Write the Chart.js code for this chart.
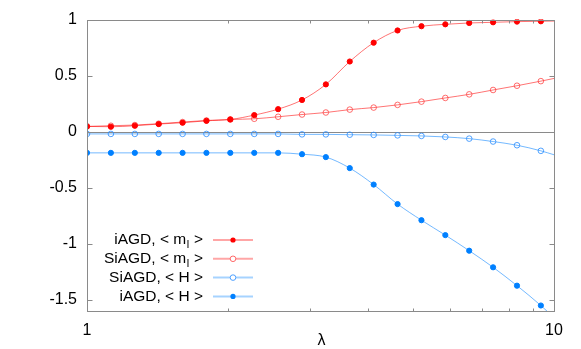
<!DOCTYPE html>
<html><head><meta charset="utf-8">
<script src="https://cdn.jsdelivr.net/npm/chart.js@4/dist/chart.umd.min.js"></script>
<style>html,body{margin:0;padding:0;background:#fff}#w{width:581px;height:349px}</style>
</head><body><div id="w"><canvas id="c" width="581" height="349"></canvas></div>
<script>
// lambda values (last entry only continues the line to the frame)
const lambda = [1, 1.125, 1.266, 1.424, 1.602, 1.802, 2.027, 2.281, 2.566, 2.887, 3.247, 3.653, 4.110, 4.624, 5.202, 5.852, 6.583, 7.406, 8.332, 9.373, 10];
const iAGD_ml = [0.047, 0.044, 0.053, 0.068, 0.080, 0.097, 0.109, 0.148, 0.201, 0.283, 0.422, 0.626, 0.794, 0.903, 0.941, 0.958, 0.970, 0.976, 0.982, 0.985, 0.987];
const SiAGD_ml = [0.047, 0.053, 0.059, 0.071, 0.086, 0.100, 0.109, 0.115, 0.133, 0.153, 0.171, 0.197, 0.215, 0.239, 0.268, 0.301, 0.333, 0.372, 0.410, 0.451, 0.475];
const SiAGD_H = [-0.020, -0.020, -0.020, -0.020, -0.020, -0.020, -0.020, -0.020, -0.020, -0.024, -0.024, -0.027, -0.029, -0.033, -0.038, -0.047, -0.062, -0.088, -0.121, -0.171, -0.206];
const iAGD_H = [-0.189, -0.189, -0.189, -0.189, -0.189, -0.189, -0.189, -0.189, -0.189, -0.201, -0.227, -0.325, -0.472, -0.646, -0.790, -0.923, -1.062, -1.210, -1.374, -1.551, -1.660];
const yTicks = [-1.5, -1, -0.5, 0, 0.5, 1];
const xTicks = [1, 2, 3, 4, 5, 6, 7, 8, 9, 10];
const xLabelTicks = [1, 10];
const xTitle = 'λ';
const legendRows = [
  {pre: 'iAGD, < m', sub: 'l', post: ' >'},
  {pre: 'SiAGD, < m', sub: 'l', post: ' >'},
  {pre: 'SiAGD, < H >', sub: '', post: ''},
  {pre: 'iAGD, < H >', sub: '', post: ''}
];

const FONT = '"Liberation Sans", Arial, sans-serif';
const FS = 16, LFS = 15.5;
const RED = '#ff0000', REDL = 'rgba(255,0,0,0.55)', BLUE = '#0080ff', BLUEL = 'rgba(0,128,255,0.55)';
const nPts = lambda.length - 1;
function radii(r){ return lambda.map((_, i) => i < nPts ? r : 0); }
function pts(arr){ return lambda.map((x, i) => ({x, y: arr[i]})); }

const styles = [
  {data: iAGD_ml, line: REDL, pb: RED, pf: RED, r: 2.6, open: false},
  {data: SiAGD_ml, line: REDL, pb: 'rgba(255,60,60,0.75)', pf: 'rgba(0,0,0,0)', r: 2.8, open: true},
  {data: SiAGD_H, line: BLUEL, pb: 'rgba(40,140,255,0.8)', pf: 'rgba(0,0,0,0)', r: 2.8, open: true},
  {data: iAGD_H, line: BLUEL, pb: BLUE, pf: BLUE, r: 2.6, open: false}
];

const deco = {
  id: 'deco',
  beforeDatasetsDraw(chart){
    const {ctx, chartArea: a, scales: {x, y}} = chart;
    ctx.save();
    ctx.strokeStyle = '#8a8a8a'; ctx.lineWidth = 1;
    const y0 = Math.round(y.getPixelForValue(0)) + 0.5;
    ctx.beginPath(); ctx.moveTo(a.left, y0); ctx.lineTo(a.right, y0); ctx.stroke();
    ctx.restore();
  },
  afterDatasetsDraw(chart){
    const {ctx, chartArea: a, scales: {x, y}} = chart;
    ctx.save();
    ctx.strokeStyle = '#8a8a8a'; ctx.lineWidth = 1;
    const L = Math.round(a.left) + 0.5, R = Math.round(a.right) + 0.5, T = Math.round(a.top) + 0.5, B = Math.round(a.bottom) + 0.5;
    ctx.strokeRect(L, T, R - L, B - T);
    ctx.beginPath();
    xTicks.forEach(v => {
      const px = Math.round(x.getPixelForValue(v)) + 0.5;
      const len = xLabelTicks.includes(v) ? 6 : 3;
      ctx.moveTo(px, B); ctx.lineTo(px, B - len);
      ctx.moveTo(px, T); ctx.lineTo(px, T + len);
    });
    yTicks.forEach(v => {
      const py = Math.round(y.getPixelForValue(v)) + 0.5;
      ctx.moveTo(L, py); ctx.lineTo(L + 5, py);
      ctx.moveTo(R, py); ctx.lineTo(R - 5, py);
    });
    ctx.stroke();
    // axis title
    ctx.fillStyle = '#000'; ctx.font = FS + 'px ' + FONT; ctx.textAlign = 'center'; ctx.textBaseline = 'middle';
    ctx.fillText(xTitle, (a.left + a.right) / 2 + 1, a.bottom + 30);
    // legend
    const textRight = a.left + 116, lineL = a.left + 126, lineR = a.left + 166;
    legendRows.forEach((row, i) => {
      const cy = a.bottom - 71 + i * 18.8;
      const s = styles[i];
      ctx.font = LFS + 'px ' + FONT;
      const w1 = ctx.measureText(row.pre).width;
      const w3 = ctx.measureText(row.post).width;
      ctx.font = '11px ' + FONT;
      const w2 = row.sub ? ctx.measureText(row.sub).width + 1 : 0;
      let xs = textRight - (w1 + w2 + w3);
      ctx.textAlign = 'left'; ctx.textBaseline = 'middle'; ctx.fillStyle = '#000';
      ctx.font = LFS + 'px ' + FONT; ctx.fillText(row.pre, xs, cy);
      if (row.sub){ ctx.font = '11px ' + FONT; ctx.fillText(row.sub, xs + w1 + 0.5, cy + 5); }
      ctx.font = LFS + 'px ' + FONT; ctx.fillText(row.post, xs + w1 + w2, cy);
      ctx.strokeStyle = i < 2 ? 'rgba(255,0,0,0.35)' : 'rgba(0,128,255,0.35)';
      ctx.lineWidth = 2;
      ctx.beginPath(); ctx.moveTo(lineL, cy); ctx.lineTo(lineR, cy); ctx.stroke();
      ctx.beginPath(); ctx.arc((lineL + lineR) / 2, cy, s.r, 0, Math.PI * 2);
      if (s.open){ ctx.fillStyle = '#fff'; ctx.fill(); ctx.strokeStyle = s.pb; ctx.lineWidth = 1; ctx.stroke(); }
      else { ctx.fillStyle = s.pf; ctx.fill(); }
    });
    ctx.restore();
  }
};

new Chart(document.getElementById('c'), {
  type: 'line',
  data: {
    datasets: styles.map(s => ({
      data: pts(s.data),
      borderColor: s.line, borderWidth: 1,
      pointRadius: radii(s.r), pointHoverRadius: radii(s.r),
      pointBackgroundColor: s.pf, pointBorderColor: s.pb, pointBorderWidth: 1,
      cubicInterpolationMode: 'monotone', fill: false
    }))
  },
  options: {
    responsive: false, animation: false, events: [],
    layout: {padding: {top: 17, right: 27, left: 0, bottom: 0}},
    plugins: {legend: {display: false}, tooltip: {enabled: false}},
    scales: {
      x: {
        type: 'logarithmic', min: 1, max: 10,
        afterBuildTicks: ax => { ax.ticks = xTicks.map(v => ({value: v})); },
        afterFit: ax => { ax.height = 38; },
        grid: {display: false, drawTicks: false},
        border: {display: false},
        ticks: {autoSkip: false, maxRotation: 0, padding: 10, color: '#000', font: {family: FONT, size: FS},
          callback: v => xLabelTicks.includes(v) ? String(v) : ''}
      },
      y: {
        type: 'linear', min: -1.6, max: 1,
        afterBuildTicks: ax => { ax.ticks = yTicks.map(v => ({value: v})); },
        afterFit: ax => { ax.width = 87; },
        grid: {display: false, drawTicks: false},
        border: {display: false},
        ticks: {padding: 10, color: '#000', font: {family: FONT, size: FS}, callback: v => String(v)}
      }
    }
  },
  plugins: [deco]
});
</script></body></html>
